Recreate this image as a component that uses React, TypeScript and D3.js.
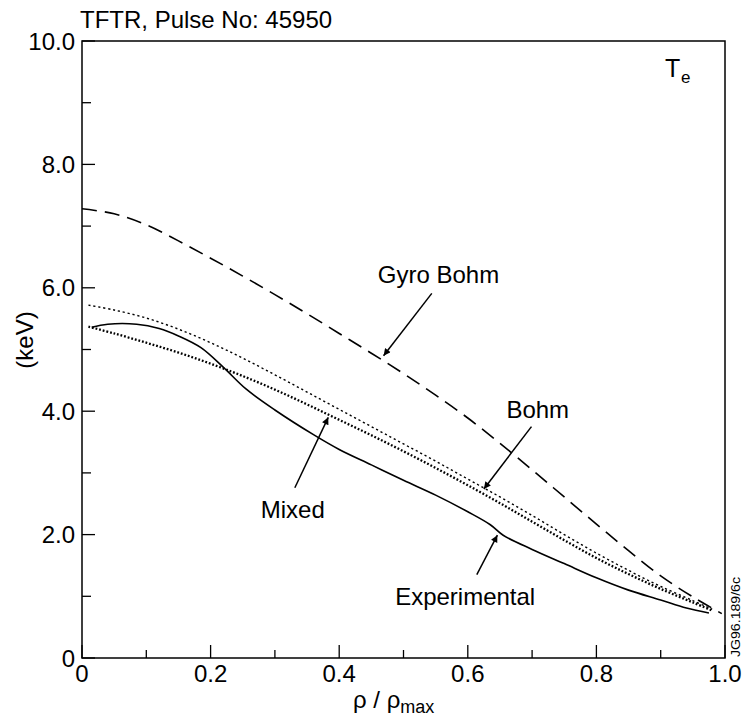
import React from "react";
import * as d3 from "d3";

// ---- data ----
const gyroX = [0.0, 0.05, 0.1, 0.15, 0.2, 0.25, 0.3, 0.35, 0.4, 0.45, 0.5, 0.55, 0.6, 0.65, 0.7, 0.75, 0.8, 0.85, 0.9, 0.95, 0.995];
const gyroY = [7.28, 7.2, 7.02, 6.76, 6.48, 6.19, 5.89, 5.58, 5.26, 4.94, 4.61, 4.26, 3.89, 3.48, 3.05, 2.61, 2.17, 1.74, 1.33, 0.99, 0.72];

const bohmX = [0.01, 0.05, 0.1, 0.15, 0.2, 0.25, 0.3, 0.35, 0.4, 0.45, 0.5, 0.55, 0.6, 0.65, 0.7, 0.75, 0.8, 0.85, 0.9, 0.95, 0.98];
const bohmY = [5.72, 5.64, 5.51, 5.33, 5.11, 4.86, 4.59, 4.31, 4.03, 3.75, 3.47, 3.19, 2.9, 2.61, 2.31, 2.0, 1.7, 1.42, 1.16, 0.93, 0.79];

const mixedX = [0.01, 0.05, 0.1, 0.15, 0.2, 0.25, 0.3, 0.35, 0.4, 0.45, 0.5, 0.55, 0.6, 0.65, 0.7, 0.75, 0.8, 0.85, 0.9, 0.95, 0.98];
const mixedY = [5.37, 5.26, 5.11, 4.95, 4.77, 4.57, 4.35, 4.11, 3.86, 3.61, 3.35, 3.08, 2.8, 2.51, 2.21, 1.91, 1.62, 1.36, 1.12, 0.9, 0.77];

const expX = [0.015, 0.04, 0.085, 0.12, 0.15, 0.185, 0.22, 0.255, 0.3, 0.36, 0.4, 0.45, 0.5, 0.55, 0.6, 0.635, 0.655, 0.7, 0.75, 0.8, 0.85, 0.9, 0.94, 0.975];
const expY = [5.36, 5.41, 5.41, 5.34, 5.22, 5.03, 4.71, 4.36, 4.02, 3.62, 3.38, 3.13, 2.88, 2.64, 2.37, 2.16, 1.99, 1.76, 1.53, 1.3, 1.1, 0.94, 0.81, 0.73];

const xMajorTicks = [0, 0.2, 0.4, 0.6, 0.8, 1.0];
const xMajorLabels = ["0", "0.2", "0.4", "0.6", "0.8", "1.0"];
const xMinorTicks = [0.1, 0.3, 0.5, 0.7, 0.9];
const yMajorTicks = [0, 2, 4, 6, 8, 10];
const yMajorLabels = ["0", "2.0", "4.0", "6.0", "8.0", "10.0"];
const yMinorTicks = [1, 3, 5, 7, 9];

// annotations: label position (data units), arrow from -> to (data units)
const annLabels = ["Gyro Bohm", "Bohm", "Mixed", "Experimental"];
const annLabelX = [0.46, 0.66, 0.278, 0.487];
const annLabelY = [6.08, 3.89, 2.27, 0.86];
const annFromX = [0.544, 0.699, 0.331, 0.614];
const annFromY = [5.91, 3.75, 2.76, 1.35];
const annToX = [0.469, 0.625, 0.383, 0.646];
const annToY = [4.9, 2.74, 3.9, 1.99];

const FONT = "'Liberation Sans', Arial, Helvetica, sans-serif";

export default function App() {
  const W = 746, H = 722;
  const x = d3.scaleLinear().domain([0, 1]).range([82, 725]);
  const y = d3.scaleLinear().domain([0, 10]).range([658, 41]);

  const line = d3
    .line<[number, number]>()
    .x((d) => x(d[0]))
    .y((d) => y(d[1]))
    .curve(d3.curveCatmullRom.alpha(0.5));

  const zip = (a: number[], b: number[]) => a.map((v, i) => [v, b[i]] as [number, number]);

  return (
    <svg
      width={W}
      height={H}
      style={{ position: "absolute", left: 0, top: 0, background: "#fff" }}
      fontFamily={FONT}
    >
      <defs>
        <marker id="arr" viewBox="0 0 10 10" refX="10" refY="5" markerWidth="10" markerHeight="7" markerUnits="userSpaceOnUse" orient="auto">
          <path d="M0,0 L10,5 L0,10 z" fill="#000" />
        </marker>
      </defs>
      <rect x={0} y={0} width={W} height={H} fill="#fff" />

      {/* frame */}
      <rect x={x(0)} y={y(10)} width={x(1) - x(0)} height={y(0) - y(10)} fill="none" stroke="#000" strokeWidth={1.5} />

      {/* ticks */}
      {xMajorTicks.map((t, i) => (
        <g key={"xm" + i}>
          <line x1={x(t)} x2={x(t)} y1={y(0)} y2={y(0) - 13} stroke="#000" strokeWidth={1.3} />
          <text x={x(t)} y={y(0) + 24} fontSize={24} textAnchor="middle">{xMajorLabels[i]}</text>
        </g>
      ))}
      {xMinorTicks.map((t, i) => (
        <line key={"xn" + i} x1={x(t)} x2={x(t)} y1={y(0)} y2={y(0) - 8} stroke="#000" strokeWidth={1.3} />
      ))}
      {yMajorTicks.map((t, i) => (
        <g key={"ym" + i}>
          <line x1={x(0)} x2={x(0) + 13} y1={y(t)} y2={y(t)} stroke="#000" strokeWidth={1.3} />
          <text x={75} y={y(t) + 8.5} fontSize={24} textAnchor="end">{yMajorLabels[i]}</text>
        </g>
      ))}
      {yMinorTicks.map((t, i) => (
        <line key={"yn" + i} x1={x(0)} x2={x(0) + 9} y1={y(t)} y2={y(t)} stroke="#000" strokeWidth={1.3} />
      ))}

      {/* curves */}
      <path d={line(zip(gyroX, gyroY)) || ""} fill="none" stroke="#000" strokeWidth={1.6} strokeDasharray="15 8" />
      <path d={line(zip(bohmX, bohmY)) || ""} fill="none" stroke="#000" strokeWidth={1.4} strokeDasharray="2.2 2.8" />
      <path d={line(zip(mixedX, mixedY)) || ""} fill="none" stroke="#000" strokeWidth={2.3} strokeDasharray="1.8 1.9" />
      <path d={line(zip(expX, expY)) || ""} fill="none" stroke="#000" strokeWidth={1.6} />

      {/* annotations */}
      {annLabels.map((l, i) => (
        <g key={"a" + i}>
          <text x={x(annLabelX[i])} y={y(annLabelY[i])} fontSize={24}>{l}</text>
          <line
            x1={x(annFromX[i])}
            y1={y(annFromY[i])}
            x2={x(annToX[i])}
            y2={y(annToY[i])}
            stroke="#000"
            strokeWidth={1.5}
            markerEnd="url(#arr)"
          />
        </g>
      ))}

      {/* title & labels */}
      <text x={80} y={28} fontSize={24}>TFTR, Pulse No: 45950</text>
      <text x={665} y={77} fontSize={25}>T</text>
      <text x={681} y={83} fontSize={17}>e</text>
      <text transform="translate(33,340) rotate(-90)" fontSize={24} textAnchor="middle">(keV)</text>
      <text x={353} y={708} fontSize={24}>
        ρ / ρ<tspan fontSize={18} dy={5}>max</tspan>
      </text>
      <text transform="translate(740,657) rotate(-90)" fontSize={13} textLength={80} lengthAdjust="spacingAndGlyphs">JG96.189/6c</text>
    </svg>
  );
}
